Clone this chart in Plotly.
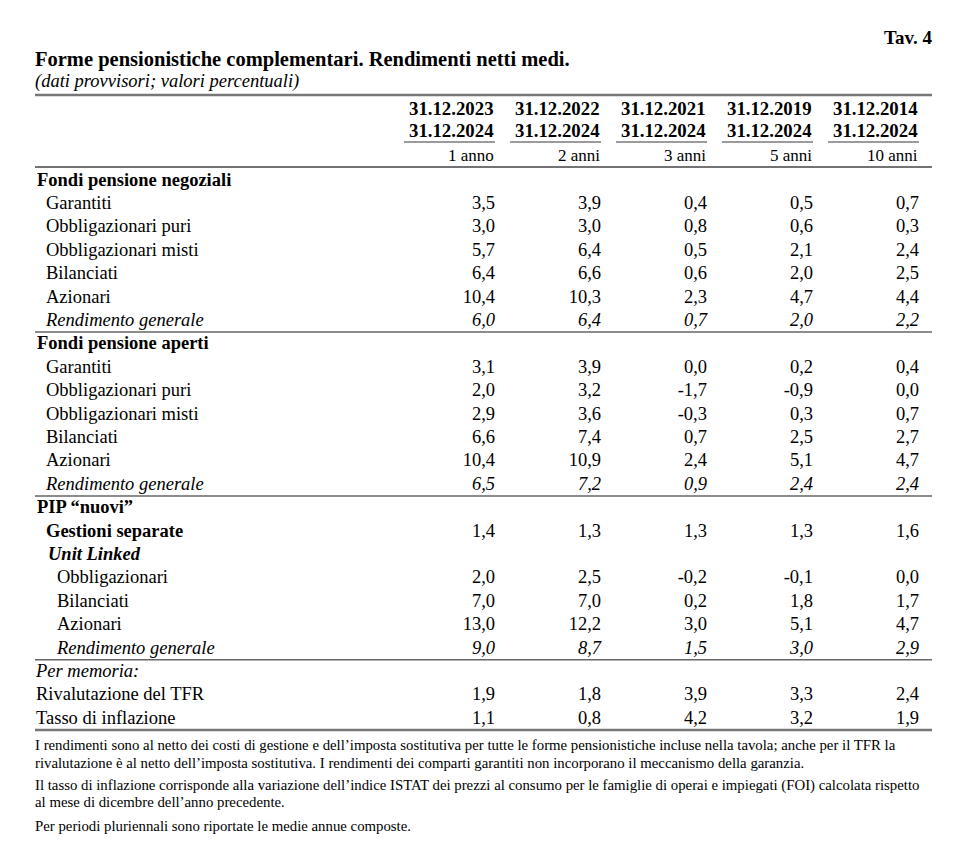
import plotly.graph_objects as go

# ---------------- data ----------------
row_labels = [
    "Fondi pensione negoziali", "Garantiti", "Obbligazionari puri", "Obbligazionari misti",
    "Bilanciati", "Azionari", "Rendimento generale",
    "Fondi pensione aperti", "Garantiti", "Obbligazionari puri", "Obbligazionari misti",
    "Bilanciati", "Azionari", "Rendimento generale",
    "PIP “nuovi”", "Gestioni separate", "Unit Linked", "Obbligazionari", "Bilanciati",
    "Azionari", "Rendimento generale",
    "Per memoria:", "Rivalutazione del TFR", "Tasso di inflazione",
]
row_kind = [
    "section", "item", "item", "item", "item", "item", "total",
    "section", "item", "item", "item", "item", "item", "total",
    "section", "bolditem", "bolditalic", "subitem", "subitem", "subitem", "subtotal",
    "memo", "memoitem", "memoitem",
]
col_start = ["31.12.2023", "31.12.2022", "31.12.2021", "31.12.2019", "31.12.2014"]
col_end = ["31.12.2024", "31.12.2024", "31.12.2024", "31.12.2024", "31.12.2024"]
col_period = ["1 anno", "2 anni", "3 anni", "5 anni", "10 anni"]

val_1y = [None, 3.5, 3.0, 5.7, 6.4, 10.4, 6.0, None, 3.1, 2.0, 2.9, 6.6, 10.4, 6.5,
          None, 1.4, None, 2.0, 7.0, 13.0, 9.0, None, 1.9, 1.1]
val_2y = [None, 3.9, 3.0, 6.4, 6.6, 10.3, 6.4, None, 3.9, 3.2, 3.6, 7.4, 10.9, 7.2,
          None, 1.3, None, 2.5, 7.0, 12.2, 8.7, None, 1.8, 0.8]
val_3y = [None, 0.4, 0.8, 0.5, 0.6, 2.3, 0.7, None, 0.0, -1.7, -0.3, 0.7, 2.4, 0.9,
          None, 1.3, None, -0.2, 0.2, 3.0, 1.5, None, 3.9, 4.2]
val_5y = [None, 0.5, 0.6, 2.1, 2.0, 4.7, 2.0, None, 0.2, -0.9, 0.3, 2.5, 5.1, 2.4,
          None, 1.3, None, -0.1, 1.8, 5.1, 3.0, None, 3.3, 3.2]
val_10y = [None, 0.7, 0.3, 2.4, 2.5, 4.4, 2.2, None, 0.4, 0.0, 0.7, 2.7, 4.7, 2.4,
           None, 1.6, None, 0.0, 1.7, 4.7, 2.9, None, 2.4, 1.9]
values = [val_1y, val_2y, val_3y, val_5y, val_10y]

title = "Forme pensionistiche complementari. Rendimenti netti medi."
subtitle = "(dati provvisori; valori percentuali)"
tav = "Tav. 4"
footnotes = [
    "I rendimenti sono al netto dei costi di gestione e dell’imposta sostitutiva per tutte le forme pensionistiche incluse nella tavola; anche per il TFR la",
    "rivalutazione è al netto dell’imposta sostitutiva. I rendimenti dei comparti garantiti non incorporano il meccanismo della garanzia.",
    "Il tasso di inflazione corrisponde alla variazione dell’indice ISTAT dei prezzi al consumo per le famiglie di operai e impiegati (FOI) calcolata rispetto",
    "al mese di dicembre dell’anno precedente.",
    "Per periodi pluriennali sono riportate le medie annue composte.",
]

# ---------------- layout constants ----------------
FONT = "Liberation Serif, Times New Roman, serif"
W, H = 969, 850
OFF = 8  # page body margin
LEFT, RIGHT = 35, 932
Y0, DY = 181, 23.4
COL_RIGHT = [494, 600, 706, 812, 918]
COL_W = 90
FS = 18.5

indent = {"section": 37, "item": 46, "total": 46, "bolditem": 46, "bolditalic": 48,
          "subitem": 57, "subtotal": 57, "memo": 36, "memoitem": 36}


def fmt(v, kind):
    if v is None:
        return ""
    s = f"{v:.1f}".replace(".", ",")
    if kind in ("total", "subtotal"):
        s = f"<i>{s}</i>"
    return s


def lab(t, kind):
    if kind in ("section", "bolditem"):
        return f"<b>{t}</b>"
    if kind == "bolditalic":
        return f"<b><i>{t}</i></b>"
    if kind in ("total", "subtotal", "memo"):
        return f"<i>{t}</i>"
    return t


row_y = [Y0 + i * DY for i in range(len(row_labels))]

fig = go.Figure()

fig.add_trace(go.Scatter(
    x=[indent[k] for k in row_kind], y=row_y, mode="text",
    text=[lab(t, k) for t, k in zip(row_labels, row_kind)],
    textposition="middle right", textfont=dict(family=FONT, size=FS, color="black"),
    hoverinfo="skip", showlegend=False,
))

for c, vals in enumerate(values):
    fig.add_trace(go.Scatter(
        x=[COL_RIGHT[c] + 1] * len(vals), y=row_y, mode="text",
        text=[fmt(v, k) for v, k in zip(vals, row_kind)],
        textposition="middle left", textfont=dict(family=FONT, size=FS, color="black"),
        hoverinfo="skip", showlegend=False,
    ))

ann = []
shapes = []


def add_text(x, y, text, size, anchor="right"):
    ann.append(dict(x=x, y=y, text=text, xanchor=anchor, yanchor="middle", xref="x", yref="y",
                    showarrow=False, borderpad=0, font=dict(family=FONT, size=size, color="black")))


for c in range(5):
    add_text(COL_RIGHT[c] + 1, 108, f"<b>{col_start[c]}</b>", 18.8)
    add_text(COL_RIGHT[c] + 1, 130, f"<b>{col_end[c]}</b>", 18.8)
    add_text(COL_RIGHT[c] + 1, 155, col_period[c], 17)
    shapes.append(dict(type="line", x0=COL_RIGHT[c] - COL_W, x1=COL_RIGHT[c] + 1, y0=142, y1=142,
                       line=dict(color="#7a7a7a", width=1.5)))

add_text(RIGHT + 1, 37, f"<b>{tav}</b>", 19)
add_text(LEFT - 1, 59, f"<b>{title}</b>", 20.5, "left")
add_text(LEFT - 1, 81, f"<i>{subtitle}</i>", 18.5, "left")

foot_y = [745, 763, 785, 802, 826]
for t, y in zip(footnotes, foot_y):
    add_text(LEFT - 1, y, t, 14.8, "left")

shapes.append(dict(type="line", x0=LEFT, x1=RIGHT, y0=95, y1=95, line=dict(color="#777777", width=2.5)))
shapes.append(dict(type="line", x0=LEFT, x1=RIGHT, y0=167, y1=167, line=dict(color="#444444", width=1.5)))
for i in (6, 13, 20):
    yy = Y0 + (i + 0.5) * DY - 1
    shapes.append(dict(type="line", x0=LEFT, x1=RIGHT, y0=yy, y1=yy, line=dict(color="#666666", width=1.5)))
yb = Y0 + 23.5 * DY - 1
shapes.append(dict(type="line", x0=LEFT, x1=RIGHT, y0=yb, y1=yb, line=dict(color="#777777", width=2.5)))
for s in shapes:
    s.update(xref="x", yref="y", layer="above")

fig.update_layout(
    width=W, height=H, margin=dict(l=0, r=0, t=0, b=0),
    paper_bgcolor="white", plot_bgcolor="white",
    xaxis=dict(range=[OFF, W + OFF], visible=False, fixedrange=True),
    yaxis=dict(range=[H + OFF, OFF], visible=False, fixedrange=True),
    annotations=ann, shapes=shapes, showlegend=False,
)

fig.write_html("out.html")
